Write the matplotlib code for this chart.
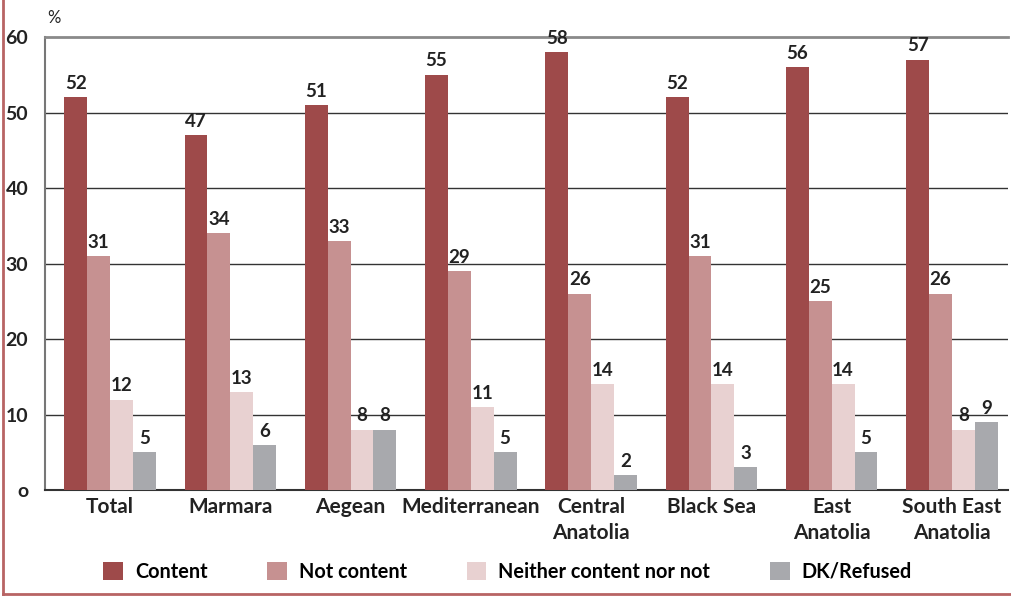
import numpy as np
from matplotlib import pyplot as plt
from matplotlib.lines import Line2D

plt.rcParams['font.family'] = ['Lato', 'DejaVu Sans']

regions = ['Total', 'Marmara', 'Aegean', 'Mediterranean', 'Central\nAnatolia',
           'Black Sea', 'East\nAnatolia', 'South East\nAnatolia']
content = [52, 47, 51, 55, 58, 52, 56, 57]
not_content = [31, 34, 33, 29, 26, 31, 25, 26]
neither = [12, 13, 8, 11, 14, 14, 14, 8]
dk_refused = [5, 6, 8, 5, 2, 3, 5, 9]

series = [
    ('Content', content, '#9e4a4a'),
    ('Not content', not_content, '#c69191'),
    ('Neither content nor not', neither, '#e8d1d1'),
    ('DK/Refused', dk_refused, '#a8a9ad'),
]

fig = plt.figure(figsize=(10.11, 5.97), dpi=100)
ax = fig.add_axes([0.0445, 0.179, 0.953, 0.759])

x = np.arange(len(regions))
w = 0.19
for i, (name, vals, col) in enumerate(series):
    pos = x + (i - 1.5) * w
    ax.bar(pos, vals, w, color=col, label=name, zorder=3)
    for p, v in zip(pos, vals):
        ax.text(p, v + 0.7, str(v), ha='center', va='bottom',
                fontsize=13.5, fontweight='bold', color='#222222')

ax.set_ylim(0, 60)
ax.set_xlim(-0.54, 7.47)
ax.set_yticks(range(0, 61, 10))
ax.set_yticklabels([str(t) if t else 'o' for t in range(0, 61, 10)],
                   fontsize=14, fontweight='bold', color='#222222')
ax.set_xticks(x)
ax.set_xticklabels(regions, fontsize=15, fontweight='bold', color='#222222',
                   linespacing=1.35)
ax.tick_params(axis='both', length=0)
ax.tick_params(axis='y', pad=12)
ax.tick_params(axis='x', pad=5)

for t in range(10, 60, 10):
    ax.axhline(t, color='#333333', lw=1.0, zorder=1)
ax.spines['right'].set_visible(False)
ax.spines['top'].set_color('#8a8a8a')
ax.spines['top'].set_linewidth(2)
ax.spines['left'].set_color('#777777')
ax.spines['left'].set_linewidth(1.5)
ax.spines['bottom'].set_color('#333333')
ax.spines['bottom'].set_linewidth(1.5)

ax.text(-0.52, 61.5, '%', fontsize=12, color='#222222', ha='left', va='bottom')

fig.legend(loc='center', bbox_to_anchor=(0.502, 0.042), ncol=4, frameon=False,
           prop={'size': 14.3, 'weight': 'bold'}, handlelength=1.0,
           handleheight=1.0, columnspacing=3.0, handletextpad=0.6)

# thin reddish frame at left and bottom
fig.add_artist(Line2D([0.003, 0.003], [0.005, 1.0], color='#b86464', lw=2,
                      transform=fig.transFigure))
fig.add_artist(Line2D([0.003, 1.0], [0.005, 0.005], color='#b86464', lw=2,
                      transform=fig.transFigure))

fig.savefig('out.png', dpi=100)
